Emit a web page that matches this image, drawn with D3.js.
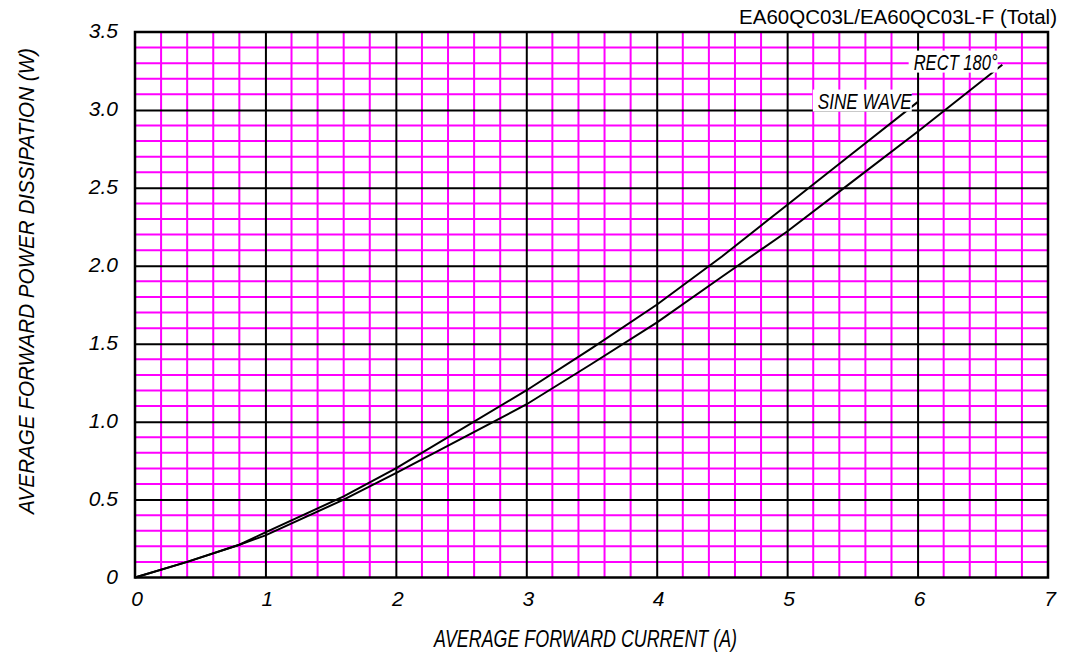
<!DOCTYPE html>
<html>
<head>
<meta charset="utf-8">
<script src="https://cdn.jsdelivr.net/npm/d3@7"></script>
<style>
  body { margin: 0; background: #fff; }
  svg { display: block; font-family: Arial, "Liberation Sans", sans-serif; }
</style>
</head>
<body>
<div id="chart"></div>
<script>
const xTicks = [0, 1, 2, 3, 4, 5, 6, 7];
const yTicks = [0, 0.5, 1.0, 1.5, 2.0, 2.5, 3.0, 3.5];
const yTickLabels = ["0", "0.5", "1.0", "1.5", "2.0", "2.5", "3.0", "3.5"];

// SINE WAVE curve
const sineX = [0, 0.4, 0.8, 1.0, 1.6, 2.0, 3.0, 3.5, 4.0, 4.5, 5.0, 5.5, 6.0];
const sineY = [0, 0.10, 0.21, 0.29, 0.52, 0.70, 1.20, 1.47, 1.75, 2.06, 2.39, 2.72, 3.05];

// RECT 180° curve
const rectX = [0, 0.4, 0.8, 1.0, 1.6, 2.0, 3.0, 3.5, 4.0, 4.5, 5.0, 5.5, 6.0, 6.65];
const rectY = [0, 0.10, 0.21, 0.27, 0.50, 0.67, 1.11, 1.37, 1.635, 1.93, 2.22, 2.54, 2.86, 3.29];

const width = 1066;
const height = 654;
const margin = { top: 32, right: 18, bottom: 76.5, left: 135 };

const svg = d3.select("#chart")
    .append("svg")
    .attr("width", width)
    .attr("height", height);

const xScale = d3.scaleLinear()
    .domain([0, 7])
    .range([margin.left, width - margin.right]);

const yScale = d3.scaleLinear()
    .domain([0, 3.5])
    .range([height - margin.bottom, margin.top]);

// minor grid (magenta)
svg.append("g")
    .selectAll("line")
    .data(d3.range(1, 35).map(i => i * 0.2).filter(v => Math.abs(v - Math.round(v)) > 1e-6))
    .enter()
    .append("line")
    .attr("x1", d => xScale(d))
    .attr("x2", d => xScale(d))
    .attr("y1", yScale(0))
    .attr("y2", yScale(3.5))
    .attr("stroke", "#ff00ff")
    .attr("stroke-width", 2);

svg.append("g")
    .selectAll("line")
    .data(d3.range(1, 35).map(i => i * 0.1).filter(v => Math.abs(v * 2 - Math.round(v * 2)) > 1e-6))
    .enter()
    .append("line")
    .attr("x1", xScale(0))
    .attr("x2", xScale(7))
    .attr("y1", d => yScale(d))
    .attr("y2", d => yScale(d))
    .attr("stroke", "#ff00ff")
    .attr("stroke-width", 2);

// major grid (black)
svg.append("g")
    .call(d3.axisBottom(xScale)
        .tickValues(xTicks.slice(1, -1))
        .tickSize(-(yScale(0) - yScale(3.5)))
        .tickFormat(""))
    .attr("transform", `translate(0,${yScale(0)})`)
    .call(g => g.select(".domain").remove())
    .selectAll("line")
    .attr("stroke", "#000")
    .attr("stroke-width", 2);

svg.append("g")
    .call(d3.axisLeft(yScale)
        .tickValues(yTicks.slice(1, -1))
        .tickSize(-(xScale(7) - xScale(0)))
        .tickFormat(""))
    .attr("transform", `translate(${xScale(0)},0)`)
    .call(g => g.select(".domain").remove())
    .selectAll("line")
    .attr("stroke", "#000")
    .attr("stroke-width", 2);

// frame
svg.append("rect")
    .attr("x", xScale(0))
    .attr("y", yScale(3.5))
    .attr("width", xScale(7) - xScale(0))
    .attr("height", yScale(0) - yScale(3.5))
    .attr("fill", "none")
    .attr("stroke", "#000")
    .attr("stroke-width", 2.5);

// curves
const line = d3.line()
    .x(d => xScale(d[0]))
    .y(d => yScale(d[1]));

svg.append("path")
    .datum(sineX.map((x, i) => [x, sineY[i]]))
    .attr("d", line)
    .attr("fill", "none")
    .attr("stroke", "#000")
    .attr("stroke-width", 2);

svg.append("path")
    .datum(rectX.map((x, i) => [x, rectY[i]]))
    .attr("d", line)
    .attr("fill", "none")
    .attr("stroke", "#000")
    .attr("stroke-width", 2);

// curve labels with white backing
function curveLabel(text, xv, yv, len) {
    const x = xScale(xv), y = yScale(yv);
    svg.append("rect")
        .attr("x", x - 5)
        .attr("y", y - 11)
        .attr("width", len + 5)
        .attr("height", 22)
        .attr("fill", "#fff");
    svg.append("text")
        .attr("x", x)
        .attr("y", y + 8)
        .attr("font-size", "22px")
        .attr("font-style", "italic")
        .attr("textLength", len)
        .attr("lengthAdjust", "spacingAndGlyphs")
        .text(text);
}
curveLabel("SINE WAVE", 5.235, 3.06, 94);
curveLabel("RECT 180°", 5.97, 3.31, 84);

// tick labels
svg.append("g")
    .selectAll("text")
    .data(xTicks)
    .enter()
    .append("text")
    .attr("x", d => xScale(d) + 2)
    .attr("y", yScale(0) + 28)
    .attr("text-anchor", "middle")
    .attr("font-size", "21px")
    .attr("font-style", "italic")
    .text(d => d);

svg.append("g")
    .selectAll("text")
    .data(yTicks)
    .enter()
    .append("text")
    .attr("x", xScale(0) - 17)
    .attr("y", d => yScale(d) + 6)
    .attr("text-anchor", "end")
    .attr("font-size", "21px")
    .attr("font-style", "italic")
    .text((d, i) => yTickLabels[i]);

// axis titles
svg.append("text")
    .attr("x", 434)
    .attr("y", 647)
    .attr("font-size", "24px")
    .attr("font-style", "italic")
    .attr("textLength", 303)
    .attr("lengthAdjust", "spacingAndGlyphs")
    .text("AVERAGE FORWARD CURRENT (A)");

svg.append("text")
    .attr("transform", "translate(34,514) rotate(-90)")
    .attr("font-size", "22px")
    .attr("font-style", "italic")
    .attr("textLength", 466)
    .attr("lengthAdjust", "spacingAndGlyphs")
    .text("AVERAGE FORWARD POWER DISSIPATION (W)");

// title
svg.append("text")
    .attr("x", 1057)
    .attr("y", 24)
    .attr("text-anchor", "end")
    .attr("font-size", "20.5px")
    .text("EA60QC03L/EA60QC03L-F (Total)");
</script>
</body>
</html>
